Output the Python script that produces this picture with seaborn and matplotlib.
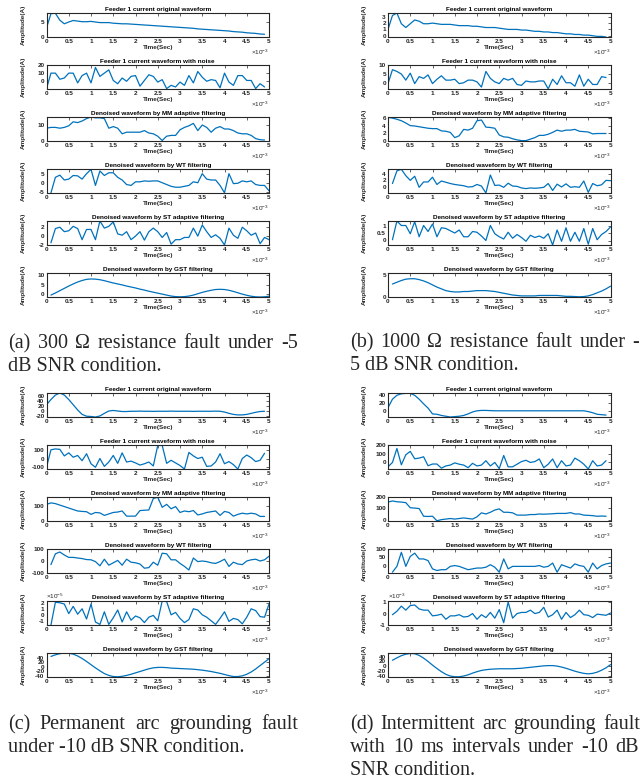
import numpy as np
import matplotlib
matplotlib.use("Agg")
import matplotlib.pyplot as plt
import seaborn as sns
from matplotlib.ticker import FuncFormatter

# --- 1. Data ---
# sample times: 0.1 ms steps; first three rows start at 0, the filtered ones at 0.1 ms
T_FROM_0 = np.round(np.arange(0, 50) * 1e-4, 6)
T_FROM_1 = np.round(np.arange(1, 51) * 1e-4, 6)

TITLES = [
    "Feeder 1 current original waveform",
    "Feeder 1 current waveform with noise",
    "Denoised waveform by MM adaptive filtering",
    "Denoised waveform by WT filtering",
    "Denoised waveform by ST adaptive filtering",
    "Denoised waveform by GST filtering",
]

# (a) 300 ohm resistance fault, -5 dB
a_orig = [3.0, 7.8, 7.9, 5.6, 4.4, 5.0, 5.5, 5.3, 5.1, 5.1, 5.2, 5.0, 4.8, 4.8, 4.8, 4.6, 4.5, 4.4, 4.4, 4.3,
          4.2, 4.1, 4.0, 3.9, 3.8, 3.7, 3.6, 3.5, 3.4, 3.3, 3.2, 3.1, 3.0, 2.9, 2.7, 2.6, 2.5, 2.4, 2.3, 2.2,
          2.1, 2.0, 1.8, 1.7, 1.6, 1.4, 1.3, 1.2, 1.0, 0.9]
a_noise = [-9, 10, 10, 2.5, 4, 10, 10, -2, 7, 10, -2, 17, 6, 10, 14, 1, -3, 4, 0, 6,
           7, -6, 1, 8, 6, -1, 2, -9, -5, -7, -1, -5, 7, -2, 12, 5, 0, 2, 1, -8,
           10, -1, -5, 7, 7, 1, 1, -9, -3, -7]
a_mm = [8, 8.5, 8.5, 8, 8.5, 9.5, 12, 11.5, 12.5, 14, 15, 14.5, 14.5, 14, 8, 9, 8, 4.5, 5.5, 5.5,
        5.5, 5.5, 6.5, 5, 4.5, 3, 0.3, 3, 3.5, 3.5, 7, 8.5, 9.5, 11, 6.5, 10, 8.5, 5.5, 8, 9,
        7.5, 7.5, 6.5, 5, 4.5, 4.5, 3.5, 1.5, 0.8, 0.6]
a_wt = [-5.6, 3, 4.2, 1.5, 2, 4, 3.8, 2, 5, 7.4, -1.5, 6.5, 4, 5.5, 5.5, 3, 1.5, -1, -1.5, 0.5,
        0.5, 1, 0.8, 1, 1, 0, -1, -2, -2.5, -2.5, -2, -1.5, 0.5, 0, 5, 2, 1.5, 1.5, -1.5, -5.6,
        5, -0.5, -0.3, 1, 0.5, 1, -1, -1.5, -1.5, -4.5]
a_st = [-1.5, 1.7, 2, 1, 1.2, 2.2, 1.7, -0.8, 1.5, 1.5, -0.8, 3.4, 1.8, 2.2, 3.2, 0.5, 0.2, 1, -0.8, 0,
        1, -0.9, 1, 1.8, 1, -0.3, 0.8, -1.8, -0.8, -0.8, -0.3, -0.3, 1.8, 0, 2.5, 1, -0.3, 0.3, -0.5, -2,
        1.8, 0.2, -0.5, 2, 1.2, 0.2, 0.7, -1.7, -0.3, -0.8]
a_gst = [-0.5, 0.6, 1.8, 3.0, 4.2, 5.3, 6.3, 7.1, 7.7, 7.9, 7.8, 7.5, 7.0, 6.4, 5.8, 5.3, 4.8, 4.2, 3.7, 3.2,
         2.6, 2.1, 1.5, 1.0, 0.5, 0.0, -0.5, -1.0, -1.3, -1.4, -1.3, -1.0, -0.5, 0.2, 0.9, 1.5, 2.0, 2.4, 2.5, 2.4,
         2.0, 1.4, 0.7, 0.0, -0.6, -1.1, -1.4, -1.5, -1.4, -1.1]
a_ylims = [(0, 8), (-9.5, 20), (0, 15), (-5.7, 7.6), (-2, 3.4), (-1.5, 11)]
a_yticks = [[0, 5], [0, 10, 20], [0, 10], [-5, 0, 5], [-2, 0, 2], [0, 5, 10]]

# (b) 1000 ohm resistance fault, -5 dB
b_orig = [1.0, 3.2, 3.6, 1.9, 1.3, 1.9, 2.5, 2.3, 1.9, 1.9, 2.0, 1.9, 1.8, 1.8, 1.8, 1.7, 1.6, 1.6, 1.6, 1.5,
          1.5, 1.4, 1.3, 1.3, 1.3, 1.2, 1.1, 1.0, 1.0, 1.0, 0.9, 0.9, 0.8, 0.7, 0.7, 0.6, 0.6, 0.5, 0.5, 0.4,
          0.3, 0.3, 0.2, 0.2, 0.1, 0.1, 0.0, -0.1, -0.1, -0.2]
b_noise = [-0.5, 7.5, 6.5, 5, 1.5, 5.5, -0.5, 3.5, 2.5, 4.5, -0.5, 2, 4, 1.5, 1.5, 2, -0.5, 0, 1.5, 1.5,
           0.5, -2.5, 6.5, 2.5, 0.5, -0.5, 2.5, 1.5, 2.5, -1, -1.5, 1, 0.5, 0.5, 1, 1, -3.5, 2, -1, 4,
           0, 0, -2, 4.5, -2, 2, -1, -1, 3.5, 3]
b_mm = [6.2, 6.0, 5.7, 5.3, 4.7, 4.0, 3.9, 3.7, 3.5, 3.3, 3.2, 3.2, 2.6, 2.5, 2.2, 0.8, 1.3, 3.0, 2.8, 3.3,
        5.3, 5.5, 3.6, 3.5, 3.3, 1.5, 1.0, 0.9, 0.5, 0.2, 0.0, 0.0, 0.4, 0.8, 1.4, 1.4, 1.7, 2.2, 2.8, 2.5,
        2.8, 2.8, 3.0, 2.5, 2.4, 2.3, 1.8, 1.9, 1.9, 1.9]
b_wt = [1, 5, 5.5, 3.5, 2, 3.3, -0.2, 1.5, 1.5, 3, 0.7, 1.8, 1.4, 1.0, 0.7, 0.5, 0.3, -0.1, 0, 0.7,
        0.2, -2, 3.7, 0.4, 0.5, -0.2, 1.1, 0.2, 0.1, -0.4, -0.6, -0.4, -0.5, -0.4, -0.2, 1.0, -1.2, 0.8, -0.1, 0.9,
        -0.2, 0, -0.2, 1.8, -1.8, 1.0, 0.3, 0.6, 2.0, 1.9]
b_st = [0.05, 1.3, 1.0, 1.0, 0.45, 1.25, 0.25, 1.0, 0.6, 1.1, 0.25, 0.85, 0.8, 0.65, 0.5, 0.7, 0.25, 0.25, 0.6, 0.55,
        0.3, 0.0, 1.0, 0.45, 0.25, 0.1, 0.55, 0.15, 0.4, 0.2, -0.05, 0.35, 0.2, 0.3, 0.15, 0.45, -0.3, 0.7, -0.05, 0.85,
        -0.05, 0.55, -0.05, 0.8, -0.25, 0.8, 0.05, 0.4, 0.6, 0.9]
b_gst = [2.9, 3.3, 3.7, 4.0, 4.1, 4.1, 3.9, 3.6, 3.2, 2.7, 2.2, 1.8, 1.4, 1.2, 1.1, 1.1, 1.2, 1.2, 1.3, 1.4,
         1.4, 1.4, 1.3, 1.2, 1.0, 0.8, 0.6, 0.4, 0.3, 0.2, 0.2, 0.2, 0.2, 0.3, 0.3, 0.3, 0.3, 0.3, 0.2, 0.1,
         0.1, 0.05, 0.0, 0.05, 0.2, 0.5, 0.9, 1.3, 1.8, 2.4]
b_ylims = [(-0.2, 3.6), (-3.6, 10.2), (-0.1, 6.3), (-2, 5.6), (-0.3, 1.3), (-0.05, 5.4)]
b_yticks = [[0, 1, 2, 3], [0, 5, 10], [0, 2, 4, 6], [0, 2, 4], [0, 0.5, 1], [0, 5]]

# (c) permanent arc grounding fault, -10 dB (ST row in units of 1e-5)
c_orig = [25, 45, 62, 70, 62, 45, 25, 5, -12, -19, -20, -22, -18, -8, 1, 3, 1, -1, -1, 0,
          0, 0.5, 0, 0, -0.5, 0, 0, 0, 0.5, 0, 0, 0, 0, -0.5, 0, 0, 0, 0, 0.5, 0,
          -3, -8, -12, -14, -14, -12, -8, -4, -1, 0]
c_noise = [-100, 100, 110, 105, 30, 65, 15, 35, -25, 55, -60, -100, 0, -90, -40, 35, -55, 65, -40, -30,
           -50, -75, -60, -40, -85, 150, 150, -55, -20, -50, -80, -120, 70, 30, 0, 15, -90, -85, -40, 55,
           -60, -35, -70, -120, 0, 40, 10, -35, -20, 60]
c_mm = [110, 120, 115, 105, 95, 85, 75, 65, 62, 60, 42, 55, 52, 35, 45, 55, 58, 65, 30, 30,
        30, 68, 70, 72, 150, 158, 90, 110, 80, 95, 55, 65, 60, 68, 38, 45, 55, 60, 65, 35,
        62, 55, 30, 42, 50, 45, 50, 45, 28, 28]
c_wt = [-30, 60, 75, 50, 30, 30, 25, 20, 12, 10, -5, -40, 15, -35, -15, 5, -35, 15, -10, -15,
        -25, -60, -55, -10, -35, 65, 60, 10, 10, -20, -45, -75, 25, -5, 0, -5, -15, -20, -5, 15,
        -45, -10, -25, -30, 0, 10, 15, 0, 10, 40]
c_st = [-1.7, 2.1, 2.0, 1.8, 0.2, 1.4, 0.1, 1.0, -0.7, 1.8, -1.2, -1.6, 0.5, -1.6, -0.5, 0.8, -1.2, 0.5, -0.9, -0.2,
        -0.5, -1.3, -0.4, -0.1, -1.0, 2.3, 2.2, 0.0, 0.4, -0.6, -1.3, -0.8, 1.0, 0.8, 0.0, -0.4, -1.0, -1.6, -0.6, 0.5,
        -1.1, -0.6, -0.8, -1.5, -0.4, 1.0, 0.7, -0.3, -0.4, 1.8]
c_gst = [45, 52, 57, 60, 59, 55, 47, 36, 23, 9, -5, -18, -30, -38, -43, -44, -42, -38, -33, -27,
         -21, -15, -9, -5, -3, -3, -4, -6, -7, -8, -9, -10, -11, -13, -15, -18, -21, -25, -29, -34,
         -39, -43, -43, -40, -33, -23, -10, 5, 20, 35]
c_ylims = [(-22, 70), (-120, 155), (-3, 160), (-100, 100), (-1.7, 2.3), (-45, 60)]
c_yticks = [[-20, 0, 20, 40, 60], [-100, 0, 100], [0, 100], [-100, 0, 100], [-1, 0, 1, 2],
            [-40, -20, 0, 20, 40]]

# (d) intermittent arc grounding fault, -10 dB (ST row in units of 1e-3)
d_orig = [8, 30, 40, 44, 45, 45, 40, 30, 18, 7, -8, -9, -12, -14, -16, -15, -14, -12, -8, -3,
          0, 1, 1, 0.5, 0, 0, 0, 0, 0, 0, 0, 0, 0, 0, 0, 0, 0, 0, 0, 0,
          0, 0, 0, 0, 0, -2, -5, -9, -10, -11]
d_noise = [-50, 0, 160, -27, 88, 127, 42, 50, 65, -38, -18, -18, -65, -40, -30, -5, -20, -30, -60, -10,
           -40, -30, 20, -40, 0, -70, 80, -50, -50, -20, 10, 25, 0, 10, 40, -60, -20, 40, -60, 20,
           -40, -30, 50, 20, -20, -75, 20, -40, -30, 20]
d_mm = [155, 165, 158, 155, 150, 105, 102, 98, 30, 28, 30, -10, 0, 5, 10, 5, 10, 15, 10, 5,
        25, 60, 50, 65, 85, 95, 65, 65, 60, 40, 40, 40, 45, 45, 50, 48, 50, 52, 55, 55,
        55, 62, 50, 50, 40, 38, 35, 30, 32, 30]
d_wt = [-40, -5, 80, -5, 55, 75, 40, 40, 30, -20, -30, -25, -25, -5, 0, -5, -15, -25, -20, -15,
        -15, -10, 5, -10, -40, 40, -20, -5, -5, -5, -5, -5, -5, 0, -10, -5, 15, -40, 5, -5,
        -15, 10, 0, -5, -40, 15, -20, 0, 10, 15]
d_st = [-0.1, 0.2, 0.65, 0.3, 0.7, 0.75, 0.4, 0.3, 0.3, -0.2, -0.15, -0.05, -0.5, -0.2, -0.2, -0.1, -0.3, -0.25, 0.0, -0.5,
        -0.1, -0.35, 0.1, -0.4, 0.35, -0.8, 1.0, -0.4, 0.0, 0.1, 0.1, 0.3, 0.0, 0.1, 0.55, -0.3, -0.1, 0.3, -0.5, 0.1,
        -0.35, -0.1, 0.3, -0.1, -0.15, -0.35, -0.05, -0.1, -0.15, 0.05]
d_gst = [25, 35, 44, 50, 53, 52, 45, 34, 20, 5, -9, -22, -33, -40, -43, -43, -40, -35, -28, -22,
         -17, -14, -12, -11, -10, -10, -10, -10, -9, -8, -6, -4, -2, 0, 2, 3, 3, 1, -3, -8,
         -14, -20, -25, -29, -31, -29, -24, -16, -6, 7]
d_ylims = [(-16, 46), (-75, 200), (-12, 200), (-45, 100), (-1.0, 1.1), (-44, 55)]
d_yticks = [[0, 20, 40], [0, 100, 200], [0, 100, 200], [0, 50, 100], [-1, 0, 1],
            [-40, -20, 0, 20, 40]]

# captions: (words, x start px, x end px or None, baseline px)
CAPTIONS = [
    (["(a)", "300", "Ω", "resistance", "fault", "under", "-5"], 8, 298, 348),
    (["dB SNR condition."], 8, None, 371),
    (["(b)", "1000", "Ω", "resistance", "fault", "under", "-"], 350, 639, 347),
    (["5 dB SNR condition."], 350, None, 370),
    (["(c)", "Permanent", "arc", "grounding", "fault"], 8, 298, 729),
    (["under -10 dB SNR condition."], 8, None, 752),
    (["(d)", "Intermittent", "arc", "grounding", "fault"], 350, 640, 729),
    (["with", "10", "ms", "intervals", "under", "-10", "dB"], 350, 639, 752),
    (["SNR condition."], 350, None, 775),
]

# --- 2. Style ---
sns.set_style("white")
plt.rcParams["font.family"] = ["Liberation Sans", "DejaVu Sans"]
plt.rcParams["axes.unicode_minus"] = False
plt.rcParams["mathtext.fontset"] = "custom"
plt.rcParams["mathtext.rm"] = "Liberation Sans"
plt.rcParams["mathtext.it"] = "Liberation Sans"

W_PX, H_PX = 641, 779
AX_W, AX_H, ROW_STEP = 222.5, 24, 52
LINE_C = "#0072BD"
AX_C = "#262626"
FS = 4.6

fig = plt.figure(figsize=(W_PX / 100, H_PX / 100), dpi=100)


def add_axes_px(left, top, width, height):
    return fig.add_axes([left / W_PX, 1 - (top + height) / H_PX, width / W_PX, height / H_PX])


def draw_panel(series, ylims, yticks, left, top, st_exp=None):
    for i in range(6):
        ax = add_axes_px(left, top + i * ROW_STEP, AX_W, AX_H)
        t = T_FROM_0 if i < 3 else T_FROM_1
        sns.lineplot(x=t, y=series[i], ax=ax, color=LINE_C, linewidth=0.9)
        ax.set_xlim(0, 5e-3)
        ax.set_ylim(*ylims[i])
        ax.set_xticks(np.arange(0, 11) * 5e-4)
        ax.set_yticks(yticks[i])
        ax.xaxis.set_major_formatter(FuncFormatter(lambda v, p: f"{round(v * 1e3, 2):g}"))
        ax.yaxis.set_major_formatter(FuncFormatter(lambda v, p: f"{round(v, 3):g}"))
        ax.tick_params(direction="in", length=2, width=0.5, top=True, right=True,
                       labelsize=FS, pad=1.5, colors=AX_C)
        for lab in ax.get_xticklabels() + ax.get_yticklabels():
            lab.set_fontweight("bold")
        for sp in ax.spines.values():
            sp.set_linewidth(0.8)
            sp.set_color(AX_C)
        ax.set_title(TITLES[i], fontsize=FS, fontweight="bold", pad=1.5, color="black")
        ax.set_xlabel("Time(Sec)", fontsize=FS, fontweight="bold", labelpad=0.5, color=AX_C)
        ax.set_ylabel("Amplitude(A)", fontsize=FS, fontweight="bold", color=AX_C)
        ax.yaxis.set_label_coords(-21 / AX_W, 0.5)
        ax.annotate(r"$\times10^{-3}$", xy=(1, 0), xycoords="axes fraction", xytext=(0, -15),
                    textcoords="offset pixels", ha="right", va="center", fontsize=FS, color=AX_C)
        if i == 4 and st_exp is not None:
            ax.annotate(r"$\times10^{%d}$" % st_exp, xy=(0, 1), xycoords="axes fraction",
                        xytext=(0, 5), textcoords="offset pixels", ha="left", va="center",
                        fontsize=FS, color=AX_C)


draw_panel([a_orig, a_noise, a_mm, a_wt, a_st, a_gst], a_ylims, a_yticks, 46.5, 13)
draw_panel([b_orig, b_noise, b_mm, b_wt, b_st, b_gst], b_ylims, b_yticks, 388, 13)
draw_panel([c_orig, c_noise, c_mm, c_wt, c_st, c_gst], c_ylims, c_yticks, 46.5, 393, st_exp=-5)
draw_panel([d_orig, d_noise, d_mm, d_wt, d_st, d_gst], d_ylims, d_yticks, 388, 393, st_exp=-3)

# --- 3. Captions (justified lines like the paper layout) ---
renderer = fig.canvas.get_renderer()
for words, x0, x1, base in CAPTIONS:
    y = 1 - base / H_PX
    texts = [fig.text(x0 / W_PX, y, w, ha="left", va="baseline", fontsize=14.5,
                      family=["Liberation Serif", "DejaVu Serif"]) for w in words]
    if x1 is None:
        continue
    widths = [t.get_window_extent(renderer).width for t in texts]
    gap = (x1 - x0 - sum(widths)) / (len(words) - 1)
    x = x0
    for t, w in zip(texts, widths):
        t.set_x(x / W_PX)
        x += w + gap

fig.savefig("out.png", dpi=100)
